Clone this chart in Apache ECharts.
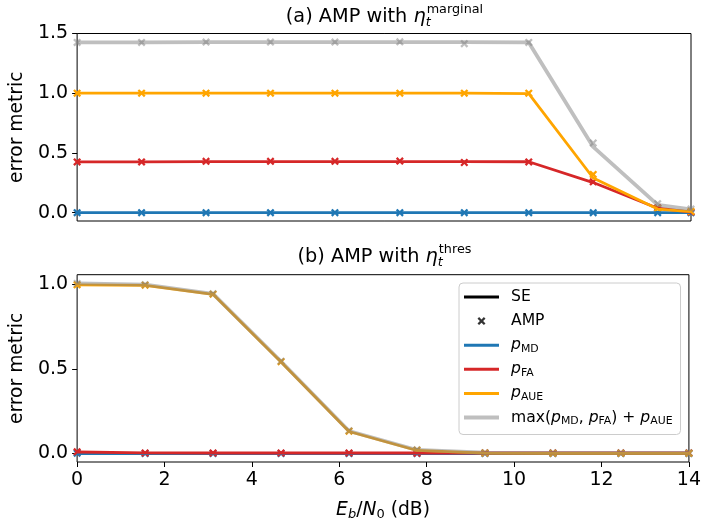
<!DOCTYPE html>
<html><head><meta charset="utf-8">
<script src="https://cdn.jsdelivr.net/npm/echarts@6/dist/echarts.min.js"></script>
<style>html,body{margin:0;padding:0;background:#fff}#c{width:704px;height:522px}</style>
</head><body><div id="c"></div>
<script>
// ---------- data ----------
const xTop = [0, 1.47, 2.94, 4.41, 5.88, 7.36, 8.83, 10.30, 11.77, 13.24, 14];
const xBottom = [0, 1.556, 3.111, 4.667, 6.222, 7.778, 9.333, 10.889, 12.444, 14];

const topMdSE   = [0, 0, 0, 0, 0, 0, 0, 0, 0, 0, 0];
const topMdAMP  = [0, 0, 0, 0, 0, 0, 0, 0, 0, 0, 0];
const topFaSE   = [0.425, 0.425, 0.427, 0.427, 0.428, 0.428, 0.428, 0.426, 0.252, 0.037, 0.005];
const topFaAMP  = [0.425, 0.425, 0.430, 0.430, 0.430, 0.432, 0.420, 0.425, 0.258, 0.040, 0.005];
const topAueSE  = [1.0, 1.0, 1.0, 1.0, 1.0, 1.0, 1.0, 0.997, 0.29, 0.030, 0.008];
const topAueAMP = [1.0, 1.0, 1.0, 1.0, 1.0, 1.0, 1.0, 1.0, 0.32, 0.035, 0.010];
const topMaxSE  = [1.425, 1.425, 1.427, 1.427, 1.428, 1.428, 1.428, 1.425, 0.55, 0.065, 0.028];
const topMaxAMP = [1.425, 1.425, 1.428, 1.428, 1.428, 1.430, 1.415, 1.425, 0.583, 0.075, 0.030];

const botMdSE   = [0, 0, 0, 0, 0, 0, 0, 0, 0, 0];
const botMdAMP  = [0.002, 0, 0, 0, 0, 0, 0, 0, 0, 0];
const botFaSE   = [0.009, 0.004, 0.003, 0.003, 0.003, 0.003, 0.003, 0.003, 0.003, 0.003];
const botFaAMP  = [0.010, 0.003, 0.003, 0.003, 0.003, 0.002, 0.003, 0.003, 0.003, 0.003];
const botAueSE  = [0.995, 0.992, 0.939, 0.540, 0.130, 0.018, 0.002, 0.001, 0.001, 0.001];
const botAueAMP = [0.995, 0.993, 0.940, 0.542, 0.132, 0.020, 0.003, 0.002, 0.002, 0.002];
const botMaxSE  = [1.004, 0.996, 0.942, 0.543, 0.133, 0.021, 0.005, 0.004, 0.004, 0.004];
const botMaxAMP = [1.003, 0.996, 0.943, 0.545, 0.135, 0.023, 0.005, 0.004, 0.004, 0.004];

const yTicksTop = [0, 0.5, 1.0, 1.5];
const yTicksBottom = [0, 0.5, 1.0];
const xTickInterval = 2;
// ---------- end data ----------

const FONT = 'DejaVu Sans';
const C_MD = '#1f77b4', C_FA = '#d62728', C_AUE = '#ffa500', C_MAX = '#808080';
const XSYM = 'path://M2,0L5,3L8,0L10,2L7,5L10,8L8,10L5,7L2,10L0,8L3,5L0,2Z';
const LINE3 = 'path://M0,0L35,0L35,3L0,3Z';
const LINE4 = 'path://M0,0L35,0L35,4L0,4Z';

const G = {left: 77, width: 614};
const G0 = {top: 33.5, height: 187.5};
const G1 = {top: 274.7, height: 188};

function pairs(xs, ys) { return xs.map((x, i) => [x, ys[i]]); }
function lineS(name, xs, ys, color, width, opacity, gi) {
  return {type: 'line', name, xAxisIndex: gi, yAxisIndex: gi, data: pairs(xs, ys),
    symbol: 'none', silent: true, animation: false,
    lineStyle: {color, width, opacity}, itemStyle: {color, opacity}};
}
function ptsS(name, xs, ys, color, opacity, gi) {
  return {type: 'scatter', name, xAxisIndex: gi, yAxisIndex: gi, data: pairs(xs, ys),
    symbol: XSYM, symbolSize: 8, silent: true, animation: false,
    itemStyle: {color, opacity}};
}

const series = [
  lineS('p_MD', xTop, topMdSE, C_MD, 2.8, 1, 0), ptsS('a_MD', xTop, topMdAMP, C_MD, 1, 0),
  lineS('p_FA', xTop, topFaSE, C_FA, 2.8, 1, 0), ptsS('a_FA', xTop, topFaAMP, C_FA, 1, 0),
  lineS('p_AUE', xTop, topAueSE, C_AUE, 2.8, 1, 0), ptsS('a_AUE', xTop, topAueAMP, C_AUE, 1, 0),
  lineS('max', xTop, topMaxSE, C_MAX, 3.8, 0.5, 0), ptsS('a_MAX', xTop, topMaxAMP, C_MAX, 0.5, 0),
  lineS('p_MD', xBottom, botMdSE, C_MD, 2.8, 1, 1), ptsS('a_MD', xBottom, botMdAMP, C_MD, 1, 1),
  lineS('p_FA', xBottom, botFaSE, C_FA, 2.8, 1, 1), ptsS('a_FA', xBottom, botFaAMP, C_FA, 1, 1),
  lineS('p_AUE', xBottom, botAueSE, C_AUE, 2.8, 1, 1), ptsS('a_AUE', xBottom, botAueAMP, C_AUE, 1, 1),
  lineS('max', xBottom, botMaxSE, C_MAX, 3.8, 0.5, 1), ptsS('a_MAX', xBottom, botMaxAMP, C_MAX, 0.5, 1),
  {type: 'line', name: 'SE', xAxisIndex: 1, yAxisIndex: 1, data: [], symbol: 'none',
    lineStyle: {color: '#000', width: 3}, itemStyle: {color: '#000'}},
  {type: 'scatter', name: 'AMP', xAxisIndex: 1, yAxisIndex: 1, data: [], symbol: XSYM,
    itemStyle: {color: '#000'}}
];

const TICK = 19;
function yAxis(gi, min, max, ticks) {
  return {type: 'value', gridIndex: gi, min, max,
    name: 'error metric', nameLocation: 'middle', nameGap: 48, nameRotate: 90,
    nameTextStyle: {fontFamily: FONT, fontSize: 18.7, color: '#000'},
    axisLine: {show: false}, splitLine: {show: false},
    axisTick: {show: true, length: 5, customValues: ticks, lineStyle: {color: '#000', width: 1}},
    axisLabel: {show: true, customValues: ticks, margin: 9, fontFamily: FONT, fontSize: TICK, color: '#000',
      formatter: v => Number(v).toFixed(1)}};
}

const option = {
  animation: false,
  backgroundColor: '#fff',
  textStyle: {fontFamily: FONT},
  grid: [
    {left: G.left, width: G.width, top: G0.top, height: G0.height, show: true, borderColor: '#000', borderWidth: 1, backgroundColor: 'transparent'},
    {left: G.left, width: G.width, top: G1.top, height: G1.height, show: true, borderColor: '#000', borderWidth: 1, backgroundColor: 'transparent'}
  ],
  xAxis: [
    {type: 'value', gridIndex: 0, min: 0, max: 14, interval: xTickInterval,
      axisLine: {show: false, onZero: false}, splitLine: {show: false},
      axisTick: {show: false}, axisLabel: {show: false}},
    {type: 'value', gridIndex: 1, min: 0, max: 14, interval: xTickInterval,
      axisLine: {show: false, onZero: false}, splitLine: {show: false},
      axisTick: {show: true, length: 5, lineStyle: {color: '#000', width: 1}},
      axisLabel: {show: true, margin: 9, fontFamily: FONT, fontSize: TICK, color: '#000'},
      name: '{i|E}{s|b}{n|/}{i|N}{u|0}{n| (dB)}', nameLocation: 'middle', nameGap: 37,
      nameTextStyle: {fontFamily: FONT, fontSize: 18.7, color: '#000',
        rich: {
          i: {fontFamily: FONT, fontStyle: 'italic', fontSize: 18.7, lineHeight: 22, color: '#000'},
          n: {fontFamily: FONT, fontSize: 18.7, lineHeight: 22, color: '#000'},
          s: {fontFamily: FONT, fontStyle: 'italic', fontSize: 13, lineHeight: 12, verticalAlign: 'bottom', color: '#000'},
          u: {fontFamily: FONT, fontSize: 13, lineHeight: 12, verticalAlign: 'bottom', color: '#000'}
        }}}
  ],
  yAxis: [yAxis(0, -0.07, 1.5, yTicksTop), yAxis(1, -0.05, 1.055, yTicksBottom)],
  legend: {
    orient: 'vertical', left: 459, top: 283, itemWidth: 35, itemHeight: 8, itemGap: 6.1,
    padding: [5, 8, 8, 5], backgroundColor: 'rgba(255,255,255,0.8)', borderColor: '#cccccc',
    borderWidth: 1, borderRadius: 4, selectedMode: false,
    data: [
      {name: 'SE', icon: LINE3}, {name: 'AMP'}, {name: 'p_MD', icon: LINE3},
      {name: 'p_FA', icon: LINE3}, {name: 'p_AUE', icon: LINE3}, {name: 'max', icon: LINE4}
    ],
    formatter: function (name) {
      return {
        'SE': '{n0|SE}', 'AMP': '{n0|AMP}',
        'p_MD': '{p0|p}{s|MD}', 'p_FA': '{p0|p}{s|FA}', 'p_AUE': '{p0|p}{s|AUE}',
        'max': '{n0|max(}{p|p}{s|MD}{n|, }{p|p}{s|FA}{n|) + }{p|p}{s|AUE}'
      }[name];
    },
    textStyle: {fontFamily: FONT, fontSize: 15.6, color: '#000', lineHeight: 18,
      rich: {
        n0: {fontFamily: FONT, fontSize: 15.6, lineHeight: 18, padding: [0, 0, 0, 7], color: '#000'},
        n: {fontFamily: FONT, fontSize: 15.6, lineHeight: 18, color: '#000'},
        p0: {fontFamily: FONT, fontStyle: 'italic', fontSize: 15.6, lineHeight: 18, padding: [0, 0, 0, 7], color: '#000'},
        p: {fontFamily: FONT, fontStyle: 'italic', fontSize: 15.6, lineHeight: 18, color: '#000'},
        s: {fontFamily: FONT, fontSize: 10.9, lineHeight: 10, verticalAlign: 'bottom', color: '#000'}
      }}
  },
  series
};

// ---------- titles with stacked sub/superscripts ----------
const ctx = document.createElement('canvas').getContext('2d');
function tw(text, size, italic) {
  ctx.font = (italic ? 'italic ' : '') + size + 'px "' + FONT + '"';
  return ctx.measureText(text).width;
}
function titleEls(prefix, sup, baseline) {
  const S = 19.3, s = 12.8;
  const main = prefix + ' AMP with ';
  const w0 = tw(main, S), we = tw('η', S, true), wt = tw('t', s, true), ws = tw(sup, s);
  const total = w0 + we + Math.max(wt, ws);
  const cx = G.left + G.width / 2;
  const x0 = cx - total / 2;
  const mid = (b, sz) => b - 0.346 * sz;
  const st = (txt, sz, italic) => ({text: txt, fontFamily: FONT, fontSize: sz, fontStyle: italic ? 'italic' : 'normal', fill: '#000', verticalAlign: 'middle', align: 'left'});
  return [
    {type: 'text', x: x0, y: mid(baseline, S), style: st(main, S, false), silent: true},
    {type: 'text', x: x0 + w0, y: mid(baseline, S), style: st('η', S, true), silent: true},
    {type: 'text', x: x0 + w0 + we, y: mid(baseline + 3.5, s), style: st('t', s, true), silent: true},
    {type: 'text', x: x0 + w0 + we + 1, y: mid(baseline - 9.5, s), style: st(sup, s, false), silent: true}
  ];
}
option.graphic = [].concat(titleEls('(a)', 'marginal', 23.5), titleEls('(b)', 'thres', 264));

const chart = echarts.init(document.getElementById('c'), null, {renderer: 'canvas'});
chart.setOption(option);
</script></body></html>
